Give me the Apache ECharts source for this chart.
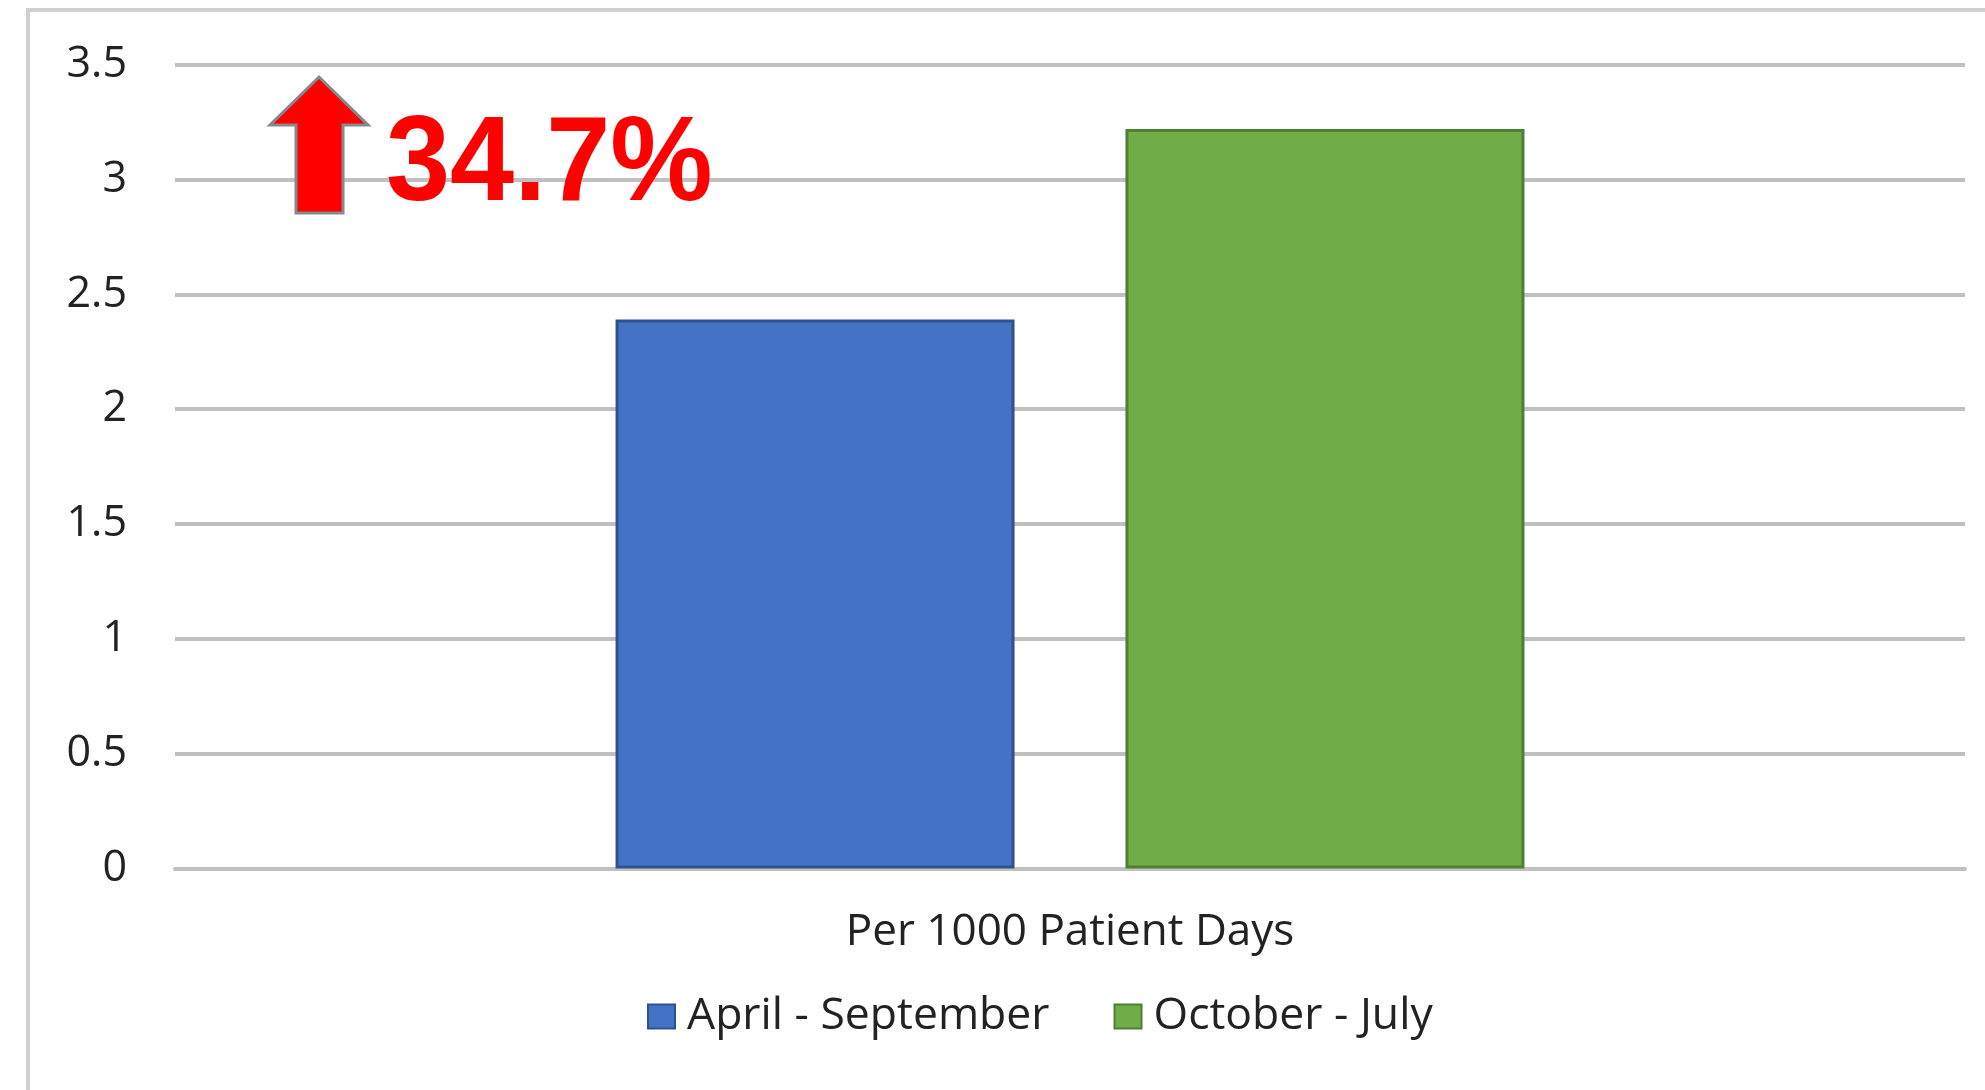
<!DOCTYPE html>
<html>
<head>
<meta charset="utf-8">
<script src="https://cdn.jsdelivr.net/npm/echarts@6/dist/echarts.min.js"></script>
<style>
  html, body { margin: 0; padding: 0; background: #ffffff; }
  #chart { width: 1985px; height: 1090px; }
</style>
</head>
<body>
<div id="chart"></div>
<script>
// ---- data ----
const categories = ['Per 1000 Patient Days'];
const seriesNames = ['April - September', 'October - July'];
const aprilSeptember = [2.39];
const octoberJuly = [3.22];
const yMin = 0;
const yMax = 3.5;
const yInterval = 0.5;
const changeLabel = '34.7%';

const FONT = '"Open Sans"';
const chart = echarts.init(document.getElementById('chart'), null, { renderer: 'canvas' });

chart.setOption({
  backgroundColor: '#ffffff',
  animation: false,
  grid: { left: 175, right: 20, top: 64.6, bottom: 221.5, containLabel: false },
  xAxis: {
    type: 'category',
    data: categories,
    axisLine: { show: true, lineStyle: { color: '#c0c0c0', width: 4 } },
    axisTick: { show: false },
    axisLabel: { color: '#222222', fontFamily: FONT, fontSize: 44, margin: 42 }
  },
  yAxis: {
    type: 'value',
    min: yMin,
    max: yMax,
    interval: yInterval,
    axisLine: { show: false },
    axisTick: { show: false },
    splitLine: { show: true, lineStyle: { color: '#c0c0c0', width: 4 } },
    axisLabel: { color: '#222222', fontFamily: FONT, fontSize: 43, margin: 48 }
  },
  legend: {
    left: 647,
    top: 994,
    padding: 0,
    itemWidth: 27,
    itemHeight: 24,
    itemGap: 64,
    icon: 'rect',
    textStyle: { color: '#222222', fontFamily: FONT, fontSize: 44.5, padding: [0, 0, 0, 7] },
    data: seriesNames
  },
  series: [
    {
      name: seriesNames[0],
      type: 'bar',
      data: aprilSeptember,
      barWidth: 399,
      barGap: '27.8%',
      itemStyle: { color: '#4472C4', borderColor: '#2F528F', borderWidth: 3 }
    },
    {
      name: seriesNames[1],
      type: 'bar',
      data: octoberJuly,
      barWidth: 399,
      barGap: '27.8%',
      itemStyle: { color: '#70AD47', borderColor: '#507E32', borderWidth: 3 }
    }
  ],
  graphic: [
    {
      type: 'rect',
      shape: { x: 28, y: 10, width: 2100, height: 1200 },
      style: { fill: 'none', stroke: '#d0d0d0', lineWidth: 4 },
      silent: true,
      z: 100
    },
    {
      type: 'polygon',
      shape: { points: [[319, 77], [368, 125], [343, 125], [343, 213], [296, 213], [296, 125], [270, 125]] },
      style: { fill: '#ff0000', stroke: '#838a8e', lineWidth: 3 },
      z: 100
    },
    {
      type: 'text',
      x: 386,
      y: 107,
      style: {
        text: changeLabel,
        fill: '#ff0000',
        font: 'bold 120px "Liberation Sans", Arial, sans-serif',
        verticalAlign: 'top',
        align: 'left'
      },
      scaleX: 0.96,
      z: 100
    }
  ]
});
</script>
</body>
</html>
